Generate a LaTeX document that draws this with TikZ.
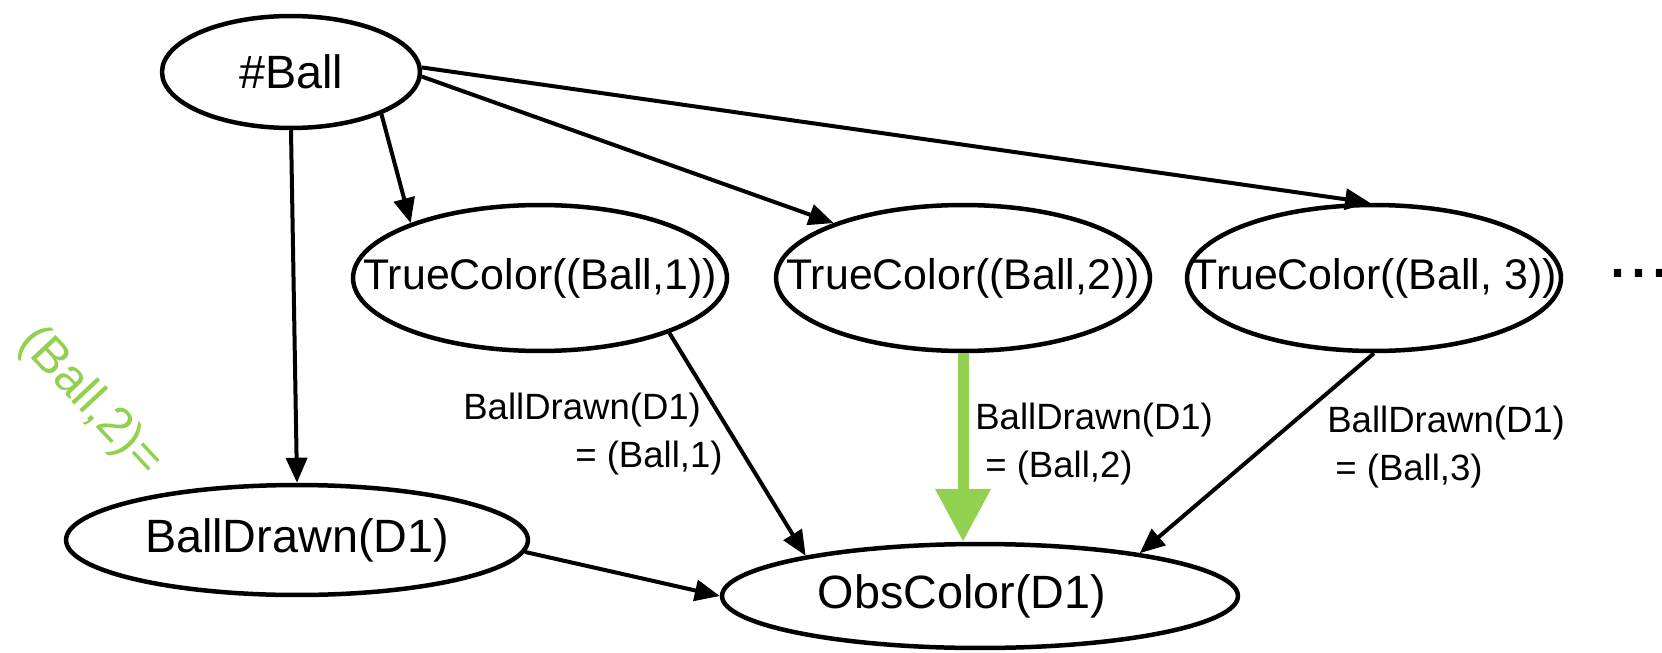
\documentclass[tikz,border=0pt]{standalone}
\usepackage{fontspec}
\setmainfont{Liberation Sans}
\usetikzlibrary{shapes.geometric,arrows.meta}
\definecolor{leaf}{HTML}{92D050}
\begin{document}
\begin{tikzpicture}[x=0.02cm,y=-0.02cm,
  oval/.style={ellipse,draw,line width=0.09cm,inner sep=0pt},
  bigtxt/.style={font=\fontsize{26.6pt}{32pt}\selectfont},
  tctxt/.style={font=\fontsize{24.4pt}{29pt}\selectfont},
  edge/.style={line width=0.08cm,-{Triangle[length=0.5cm,width=0.42cm]}},
  pickedge/.style={draw=leaf,line width=0.22cm,-{Triangle[length=1.06cm,width=1.06cm,fill=leaf]}},
  lbl/.style={font=\fontsize{20.8pt}{27.2pt}\selectfont,align=left,inner sep=0pt,anchor=base west}]
\useasboundingbox (0,0) rectangle (1662,652);

% random variables
\node[oval,bigtxt,minimum width=5.16cm,minimum height=2.24cm] (ball) at (291,72) {\makebox[0pt]{\#Ball}};
\node[oval,tctxt,minimum width=7.48cm,minimum height=2.92cm] (tc1) at (540,278) {\makebox[0pt]{TrueColor((Ball,1))}};
\node[oval,tctxt,minimum width=7.48cm,minimum height=2.92cm] (tc2) at (963,278) {\makebox[0pt]{TrueColor((Ball,2))}};
\node[oval,tctxt,minimum width=7.48cm,minimum height=2.92cm] (tc3) at (1374,278) {\makebox[0pt]{TrueColor((Ball, 3))}};
\node[oval,bigtxt,minimum width=9.24cm,minimum height=2.2cm] (bd) at (297,540) {\makebox[0pt]{BallDrawn(D1)}};
\node[oval,bigtxt,minimum width=10.32cm,minimum height=2.08cm] (obs) at (980,596) {\makebox[0pt]{ObsColor(D1)\hspace{0.72cm}}};

% more balls follow
\node[font=\fontsize{43pt}{50pt}\selectfont,anchor=base west,inner sep=0pt] (more) at (1607,277) {...};

% dependencies
\draw[edge] (ball.south) -- (bd.north);
\draw[edge] (ball.-25) -- (tc1.157);
\draw[edge] (ball.-2) -- (tc2.157);
\draw[edge] (ball.2) -- (tc3.93);
\draw[edge] (tc1.-23) -- (obs.167);
\draw[edge] (tc3.south) -- (obs.15);
\draw[edge] (bd.-3) -- (obs.west);
\draw[pickedge] (tc2.south) -- (tc2.south |- obs.north);

% edge conditions (placed by the baseline of their second line)
\node[lbl] (l1) at (463,467) {BallDrawn(D1)\\\hspace*{2.24cm}= (Ball,1)};
\node[lbl] (l2) at (975,477) {BallDrawn(D1)\\\hspace*{0.2cm}= (Ball,2)};
\node[lbl] (l3) at (1327,480) {BallDrawn(D1)\\\hspace*{0.16cm}= (Ball,3)};

% selected value
\node[rotate=-47,text=leaf,font=\fontsize{28pt}{33pt}\selectfont] (pick) at (90,402) {(Ball,2)=};
\end{tikzpicture}
\end{document}
